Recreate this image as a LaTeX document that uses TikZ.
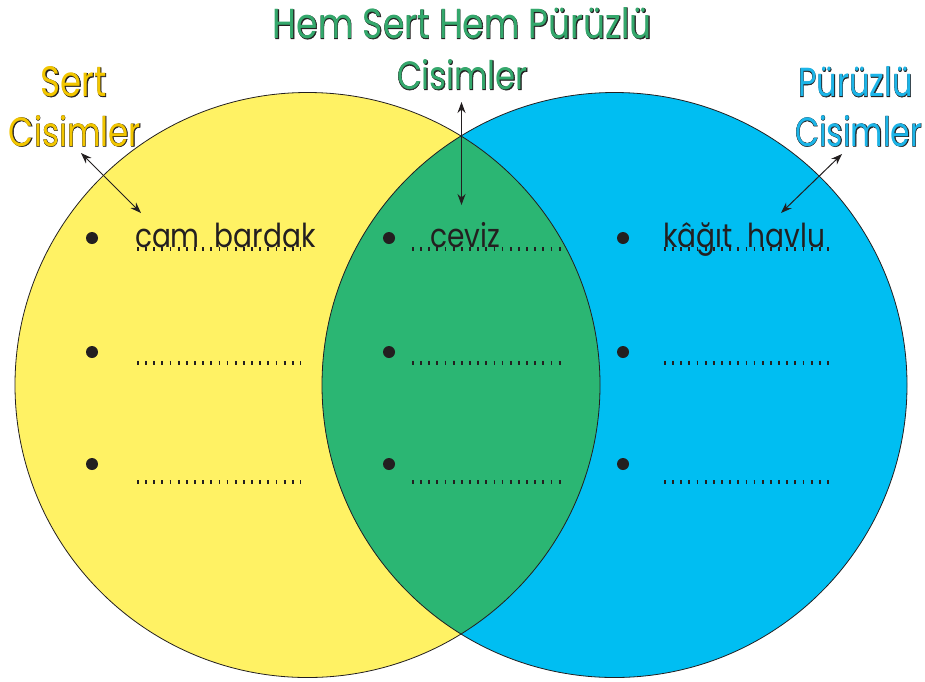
\documentclass[tikz,border=0pt]{standalone}
\usepackage{fontspec}
\setmainfont{Poppins}
\newfontfamily\labfont{Poppins}
\newfontfamily\labfontbold[FakeBold=1.6]{Poppins}
\newfontfamily\itemfont[FakeStretch=0.85]{Poppins}
\usetikzlibrary{arrows.meta}
\definecolor{yel}{RGB}{255,242,100}
\definecolor{blu}{RGB}{0,190,242}
\definecolor{grn}{RGB}{43,182,115}
\definecolor{dark}{RGB}{35,31,32}
\definecolor{ltxtyel}{RGB}{242,198,0}
\definecolor{ltxtgrn}{RGB}{52,168,108}
\definecolor{ltxtblu}{RGB}{28,181,232}
\newcommand{\outl}[4]{\resizebox{#2pt}{#3pt}{\rlap{\color{dark}\labfontbold #4}{\color{#1}\labfont #4}}}
\tikzset{
  lab/.style={inner sep=0pt, outer sep=0pt},
  item/.style={inner sep=0pt, outer sep=0pt, anchor=base west, text=dark, font=\itemfont\fontsize{33}{33}\selectfont},
  dots/.style={dark, line width=4pt, dash pattern=on 1.8pt off 6.35pt},
  bul/.style={fill=dark},
  arr/.style={dark, line width=1pt, {Stealth[length=11pt,width=8pt]}-{Stealth[length=11pt,width=8pt]}},
  ring/.style={draw=dark, line width=0.8pt}
}
\begin{document}
\begin{tikzpicture}[x=1pt,y=-1pt]
\useasboundingbox (0,0) rectangle (925,681);
\coordinate (cl) at (307.5,385);
\coordinate (cr) at (614.5,385);
\fill[yel] (cl) circle (292.5pt);
\fill[blu] (cr) circle (292.5pt);
\begin{scope}
  \clip (cl) circle (292.5pt);
  \fill[grn] (cr) circle (292.5pt);
\end{scope}
\path[ring] (cl) circle (292.5pt);
\path[ring] (cr) circle (292.5pt);

% labels
\node[lab] (title) at (462.5,23.5) {\outl{ltxtgrn}{379}{31}{Hem Sert Hem Pürüzlü}};
\node[lab] (gcis) at (462.5,75) {\outl{ltxtgrn}{131}{30}{Cisimler}};
\node[lab] (sert) at (74,82) {\outl{ltxtyel}{66}{30}{Sert}};
\node[lab] (ycis) at (75,131) {\outl{ltxtyel}{132}{31}{Cisimler}};
\node[lab] (puru) at (855.5,82) {\outl{ltxtblu}{115}{30}{Pürüzlü}};
\node[lab] (bcis) at (858.5,131) {\outl{ltxtblu}{127}{31}{Cisimler}};

% arrows
\coordinate (g1) at (461.5,102);
\coordinate (g2) at (461.5,205);
\coordinate (y1) at (81,153);
\coordinate (y2) at (141,213);
\coordinate (b1) at (842,154);
\coordinate (b2) at (781,213);
\draw[arr] (g1) -- (g2);
\draw[arr] (y1) -- (y2);
\draw[arr] (b1) -- (b2);

% bullets
\foreach \yy in {238,352,464}{
  \fill[bul] (92,\yy) circle (6pt);
  \fill[bul] (389,\yy) circle (6pt);
  \fill[bul] (623,\yy) circle (6pt);
}
% dotted lines
\foreach \yy in {248.5,363,482}{
  \draw[dots] (137,\yy) -- (301,\yy);
  \draw[dots] (412,\yy) -- (561,\yy);
  \draw[dots] (664,\yy) -- (829,\yy);
}
% items
\node[item] (it1) at (135,247) {cam\hspace{15pt}bardak};
\node[item] (it2) at (430,247) {ceviz};
\node[item] (it3) at (663,247) {kâğıt\hspace{15pt}havlu};
\end{tikzpicture}
\end{document}
